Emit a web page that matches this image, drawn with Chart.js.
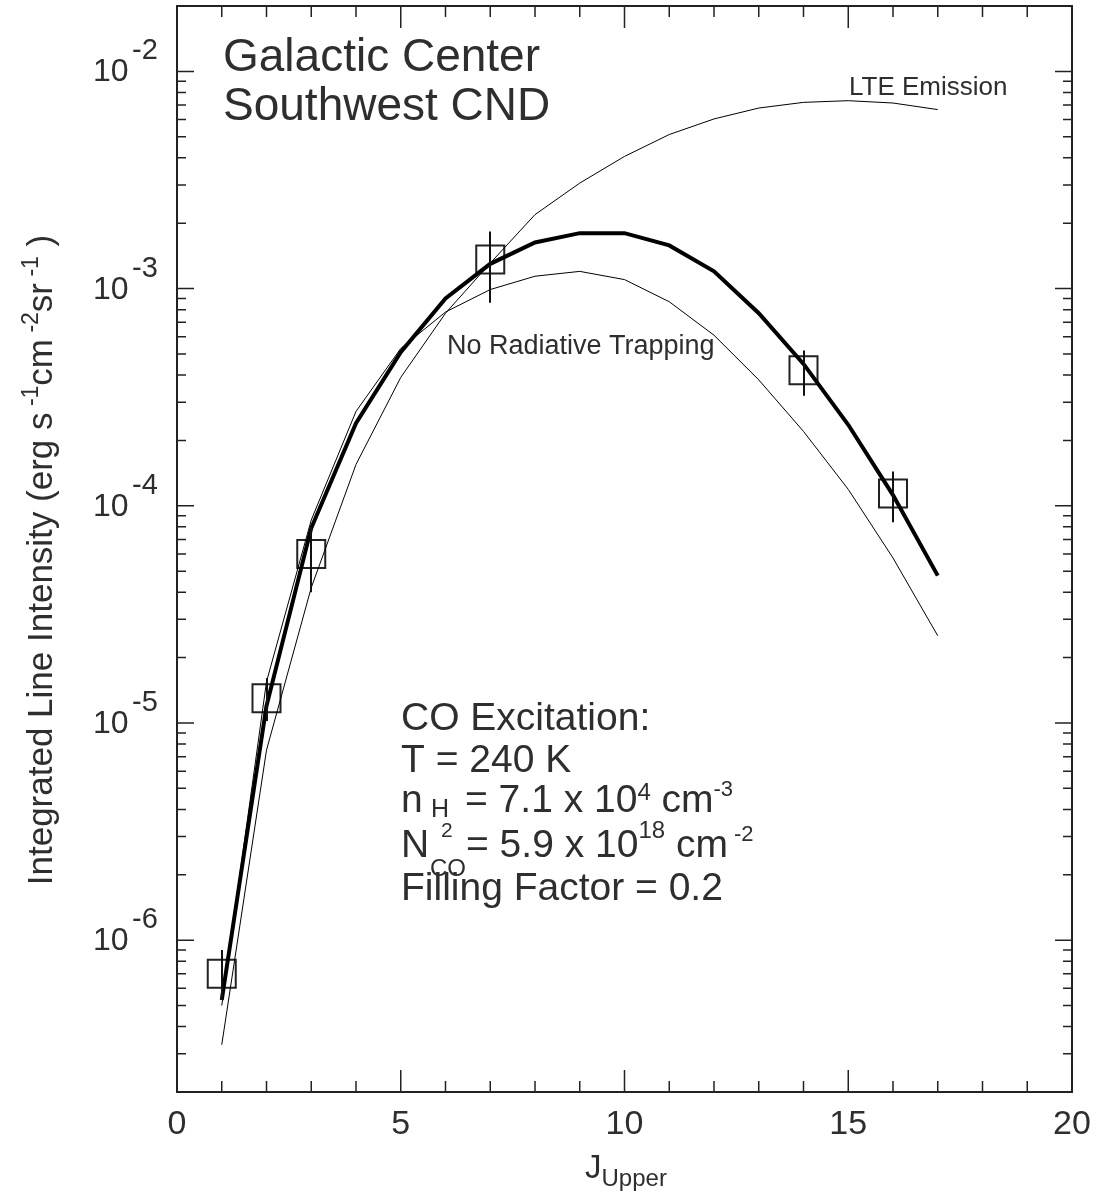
<!DOCTYPE html>
<html>
<head>
<meta charset="utf-8">
<script src="https://cdn.jsdelivr.net/npm/chart.js@4/dist/chart.umd.min.js"></script>
<style>
  html, body { margin: 0; padding: 0; background: #fff; }
  canvas { display: block; }
</style>
</head>
<body>
<canvas id="c" width="1101" height="1193"></canvas>
<script>
// J upper levels used by the model curves
const jUpper = [1, 2, 3, 4, 5, 6, 7, 8, 9, 10, 11, 12, 13, 14, 15, 16, 17];
// best fit model (thick line)
const fitModel = [5.3e-7, 1.2e-5, 7.9e-5, 2.4e-4, 5.1e-4, 9.0e-4, 1.3e-3, 1.63e-3, 1.8e-3, 1.8e-3,
  1.58e-3, 1.2e-3, 7.7e-4, 4.5e-4, 2.36e-4, 1.12e-4, 4.77e-5];
// same model without radiative trapping
const noTrapping = [5.0e-7, 1.55e-5, 8.6e-5, 2.72e-4, 5.3e-4, 7.8e-4, 9.9e-4, 1.14e-3, 1.2e-3, 1.1e-3,
  8.7e-4, 6.1e-4, 3.8e-4, 2.2e-4, 1.19e-4, 5.75e-5, 2.52e-5];
// LTE emission
const lteEmission = [3.3e-7, 7.5e-6, 4.2e-5, 1.55e-4, 3.9e-4, 7.7e-4, 1.31e-3, 2.19e-3, 3.06e-3, 4.06e-3,
  5.12e-3, 6.04e-3, 6.78e-3, 7.2e-3, 7.33e-3, 7.15e-3, 6.67e-3];

// observed lines with error bars
const obsJ = [1, 2, 3, 7, 14, 16];
const obsVal = [7.0e-7, 1.30e-5, 6.0e-5, 1.36e-3, 4.21e-4, 1.14e-4];
const obsLow = [5.3e-7, 1.02e-5, 4.0e-5, 8.6e-4, 3.21e-4, 8.4e-5];
const obsHigh = [9.0e-7, 1.61e-5, 8.0e-5, 1.83e-3, 5.19e-4, 1.44e-4];

// axes
const xMajor = [0, 5, 10, 15, 20];
const yDecades = [-6, -5, -4, -3, -2];

const FONT = '"Liberation Sans", Arial, Helvetica, sans-serif';
const TXT = '#2e2e2e';

function pts(xs, ys) {
  return xs.map((x, i) => ({ x: x, y: ys[i] }));
}

// draws a run of text pieces: [text, size, dy, absX]
function rich(ctx, x, y, parts) {
  let cx = x;
  for (const p of parts) {
    if (p[3] !== undefined) cx = p[3];
    ctx.font = p[1] + 'px ' + FONT;
    ctx.fillText(p[0], cx, y + (p[2] || 0));
    cx += ctx.measureText(p[0]).width;
  }
  return cx - x;
}
function richWidth(ctx, parts) {
  let w = 0;
  for (const p of parts) {
    ctx.font = p[1] + 'px ' + FONT;
    w += ctx.measureText(p[0]).width;
  }
  return w;
}

const decorPlugin = {
  id: 'decor',
  afterDatasetsDraw(chart) {
    const ctx = chart.ctx;
    const xs = chart.scales.x, ys = chart.scales.y;
    const a = chart.chartArea;
    ctx.save();

    // error bars
    ctx.strokeStyle = '#111';
    ctx.lineWidth = 2;
    obsJ.forEach((j, i) => {
      const px = Math.round(xs.getPixelForValue(j));
      ctx.beginPath();
      ctx.moveTo(px, ys.getPixelForValue(obsLow[i]));
      ctx.lineTo(px, ys.getPixelForValue(obsHigh[i]));
      ctx.stroke();
    });

    // frame
    ctx.strokeStyle = '#222';
    ctx.lineWidth = 2;
    ctx.strokeRect(a.left, a.top, a.right - a.left, a.bottom - a.top);

    // x ticks (bottom and top)
    ctx.lineWidth = 1.5;
    for (let v = 0; v <= 20; v++) {
      const px = xs.getPixelForValue(v);
      const len = xMajor.includes(v) ? 22 : 11;
      ctx.beginPath();
      ctx.moveTo(px, a.bottom); ctx.lineTo(px, a.bottom - len);
      ctx.moveTo(px, a.top); ctx.lineTo(px, a.top + len);
      ctx.stroke();
    }
    // y ticks (left and right)
    for (let e = -7; e <= -2; e++) {
      for (let k = 1; k <= 9; k++) {
        const v = k * Math.pow(10, e);
        if (v < ys.min * 0.999 || v > ys.max * 1.001) continue;
        const py = ys.getPixelForValue(v);
        const len = k === 1 ? 17 : 9;
        ctx.beginPath();
        ctx.moveTo(a.left, py); ctx.lineTo(a.left + len, py);
        ctx.moveTo(a.right, py); ctx.lineTo(a.right - len, py);
        ctx.stroke();
      }
    }

    ctx.fillStyle = TXT;
    ctx.textBaseline = 'alphabetic';

    // x tick labels
    ctx.textAlign = 'center';
    ctx.font = '34px ' + FONT;
    xMajor.forEach(v => {
      ctx.fillText(String(v), xs.getPixelForValue(v), a.bottom + 42);
    });

    // y tick labels 10^n
    ctx.textAlign = 'left';
    yDecades.forEach(e => {
      const py = ys.getPixelForValue(Math.pow(10, e));
      ctx.font = '32px ' + FONT;
      ctx.fillText('10', 93, py + 10);
      ctx.font = '29px ' + FONT;
      ctx.fillText(String(e), 132, py - 12);
    });

    // x axis title
    rich(ctx, 585, 1178, [['J', 33, 0], ['Upper', 24, 8]]);

    // y axis title (rotated)
    const yt = [['Integrated Line Intensity (erg s', 35, 0], [' -1', 23, -14], ['cm', 35, 0], [' -2', 23, -14],
      ['sr', 35, 0], [' -1', 23, -14], [' )', 35, 0]];
    const tw = richWidth(ctx, yt);
    ctx.save();
    ctx.translate(52, 560);
    ctx.rotate(-Math.PI / 2);
    rich(ctx, -tw / 2, 0, yt);
    ctx.restore();

    // title block
    ctx.font = '46px ' + FONT;
    ctx.fillText('Galactic Center', 223, 71);
    ctx.fillText('Southwest CND', 223, 120);

    // curve labels
    ctx.font = '26px ' + FONT;
    ctx.fillText('LTE Emission', 849, 95);
    ctx.font = '27px ' + FONT;
    ctx.fillText('No Radiative Trapping', 447, 354);

    // excitation parameters
    const F = 39;
    ctx.font = F + 'px ' + FONT;
    ctx.fillText('CO Excitation:', 401, 730);
    ctx.fillText('T = 240 K', 401, 772);
    rich(ctx, 401, 812, [['n', F, 0], ['H', 25, 5, 431], ['2', 21, 25, 441],
      ['= 7.1 x 10', F, 0, 465], ['4', 24, -12], [' cm', F, 0], ['-3', 22, -16]]);
    rich(ctx, 401, 857, [['N', F, 0], ['CO', 24, 19, 430],
      ['= 5.9 x 10', F, 0, 466], ['18', 24, -19], [' cm', F, 0], [' -2', 22, -16]]);
    ctx.font = F + 'px ' + FONT;
    ctx.fillText('Filling Factor = 0.2', 401, 900);

    ctx.restore();
  }
};

new Chart(document.getElementById('c'), {
  type: 'line',
  data: {
    datasets: [
      {
        label: 'Model',
        data: pts(jUpper, fitModel),
        borderColor: '#000', borderWidth: 4, pointRadius: 0, fill: false, tension: 0
      },
      {
        label: 'No Radiative Trapping',
        data: pts(jUpper, noTrapping),
        borderColor: '#000', borderWidth: 1, pointRadius: 0, fill: false, tension: 0
      },
      {
        label: 'LTE Emission',
        data: pts(jUpper, lteEmission),
        borderColor: '#000', borderWidth: 1, pointRadius: 0, fill: false, tension: 0
      },
      {
        label: 'Observed',
        data: pts(obsJ, obsVal),
        showLine: false,
        pointStyle: 'rect',
        pointRadius: 19.8,
        pointBorderWidth: 2,
        pointBorderColor: '#222',
        pointBackgroundColor: 'rgba(0,0,0,0)'
      }
    ]
  },
  options: {
    responsive: false,
    devicePixelRatio: 1,
    animation: false,
    layout: { autoPadding: false, padding: { left: 177, top: 6, right: 29, bottom: 101 } },
    plugins: { legend: { display: false }, tooltip: { enabled: false } },
    scales: {
      x: { type: 'linear', min: 0, max: 20, display: false },
      y: { type: 'logarithmic', min: 2e-7, max: 2e-2, display: false }
    }
  },
  plugins: [decorPlugin]
});
</script>
</body>
</html>
